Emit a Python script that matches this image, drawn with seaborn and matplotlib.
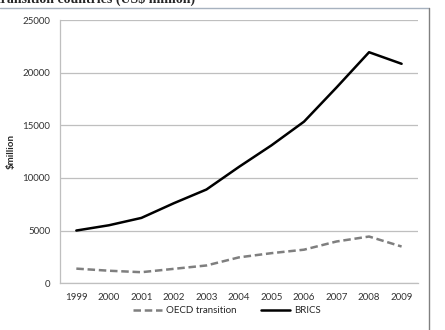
import pandas as pd
import seaborn as sns
import matplotlib.pyplot as plt
from matplotlib.lines import Line2D

years = ['1999', '2000', '2001', '2002', '2003', '2004', '2005', '2006', '2007', '2008', '2009']
brics = [5000, 5500, 6200, 7600, 8900, 11050, 13100, 15350, 18600, 21950, 20850]
oecd = [1380, 1180, 1040, 1360, 1680, 2450, 2850, 3180, 3960, 4430, 3480]

df = pd.DataFrame({'year': years * 2,
                   'value': oecd + brics,
                   'series': ['OECD transition'] * len(years) + ['BRICS'] * len(years)})

sns.set_style('white')
plt.rcParams['font.family'] = ['Lato', 'DejaVu Sans']

fig = plt.figure(figsize=(4.45, 3.3), dpi=100)
ax = fig.add_axes([0.135, 0.142, 0.804, 0.797])

sns.lineplot(data=df, x='year', y='value', hue='series', style='series',
             palette={'OECD transition': '#7f7f7f', 'BRICS': '#000000'},
             dashes={'OECD transition': (3, 1.5), 'BRICS': ''},
             linewidth=1.8, ax=ax, legend=False, sort=False)

ax.set_xlim(-0.5, 10.5)
ax.set_ylim(0, 25000)
ax.set_yticks(range(0, 25001, 5000))
ax.yaxis.grid(True, color='#bfbfbf', linewidth=0.9)
ax.set_axisbelow(True)
for s in ['top', 'right']:
    ax.spines[s].set_visible(False)
for s in ['left', 'bottom']:
    ax.spines[s].set_color('#bfbfbf')
    ax.spines[s].set_linewidth(0.9)
ax.tick_params(axis='both', length=0, labelsize=7, colors='#333333', pad=7)
ax.set_xlabel('')
ax.set_ylabel('$million', fontsize=7, fontweight='bold')
ax.yaxis.set_label_coords(-0.125, 0.5)

handles = [Line2D([], [], color='#7f7f7f', linewidth=1.8, dashes=(3, 1.5)),
           Line2D([], [], color='#000000', linewidth=1.8)]
fig.legend(handles, ['OECD transition', 'BRICS'], loc='center', bbox_to_anchor=(0.51, 0.058),
           ncol=2, frameon=False, fontsize=7, handlelength=3.0, columnspacing=2.5, handletextpad=0.4)

# cropped title and page frame lines
fig.text(-0.008, 0.992, 'transition countries (US$ million)', fontsize=10, fontweight='bold',
         family='Liberation Serif', va='baseline', ha='left')
fig.add_artist(Line2D([0, 0.965], [0.975, 0.975], color='#a7b2bf', linewidth=1))
fig.add_artist(Line2D([0.965, 0.965], [0, 0.975], color='#808080', linewidth=1))

fig.savefig('out.png', dpi=100)
